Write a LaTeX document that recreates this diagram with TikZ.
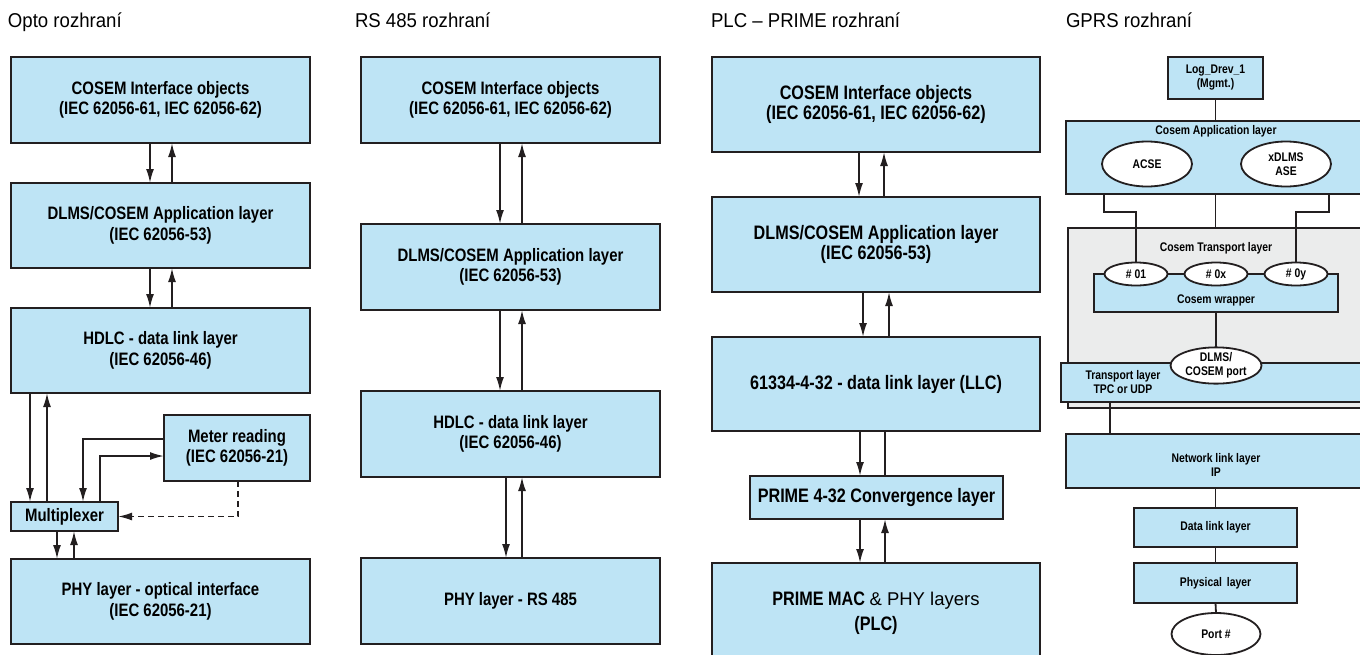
\documentclass[tikz,border=0pt]{standalone}
\usepackage{fontspec}
\setmainfont{Liberation Sans}
\newfontfamily\cnd{Liberation Sans}[FakeStretch=0.83]
\newfontfamily\ttl{Liberation Sans}[FakeStretch=0.93]
\usetikzlibrary{arrows.meta,shapes.geometric}
\definecolor{boxblue}{RGB}{190,228,245}
\definecolor{graybg}{RGB}{235,236,236}
\definecolor{ink}{RGB}{35,31,32}
\begin{document}
\begin{tikzpicture}[x=1pt,y=-1pt,
  every node/.style={inner sep=0pt, outer sep=0pt},
  layer/.style={draw=ink, fill=boxblue, line width=1.8pt, align=center,
    font=\cnd\bfseries\fontsize{18}{20.5}\selectfont},
  biglayer/.style={layer, font=\cnd\bfseries\fontsize{19.5}{20}\selectfont},
  glayer/.style={layer, font=\cnd\bfseries\fontsize{12.5}{14}\selectfont},
  gtext/.style={align=center, font=\cnd\bfseries\fontsize{12.5}{14}\selectfont},
  grayblock/.style={draw=ink, fill=graybg, line width=1.8pt},
  oval/.style={ellipse, draw=ink, fill=white, line width=1.8pt, align=center,
    font=\cnd\bfseries\fontsize{12.5}{14}\selectfont},
  title/.style={anchor=base west, font=\ttl\fontsize{20}{22}\selectfont},
  arr/.style={draw=ink, line width=1.8pt, -{Latex[length=14pt,width=8pt]}},
  link/.style={draw=ink, line width=1.8pt},
  dashlink/.style={arr, dash pattern=on 6pt off 4pt}
]
\useasboundingbox (0,0) rectangle (1360,654);
\clip (0,0) rectangle (1360,654);

% ---------- titles ----------
\node[title] (t1) at (8,27) {Opto rozhraní};
\node[title] (t2) at (355,27) {RS 485 rozhraní};
\node[title] (t3) at (711,27) {PLC – PRIME rozhraní};
\node[title] (t4) at (1066,27) {GPRS rozhraní};

% ---------- Opto ----------
\node[layer, minimum width=299pt, minimum height=86pt] (o1) at (160.5,100)
  {COSEM Interface objects\\(IEC 62056-61, IEC 62056-62)};
\node[layer, minimum width=299pt, minimum height=85pt] (o2) at (160.5,225.5)
  {DLMS/COSEM Application layer\\(IEC 62056-53)};
\node[layer, minimum width=299pt, minimum height=85pt] (o3) at (160.5,350.5)
  {HDLC - data link layer\\(IEC 62056-46)};
\node[layer, minimum width=146pt, minimum height=66pt] (mr) at (237,448)
  {Meter reading\\(IEC 62056-21)};
\node[layer, minimum width=107pt, minimum height=29pt] (mux) at (64.5,516.5)
  {Multiplexer};
\node[layer, minimum width=299pt, minimum height=85pt] (o4) at (160.5,601.5)
  {PHY layer - optical interface\\(IEC 62056-21)};

\draw[arr] ([xshift=-10.5pt]o1.south) -- ([xshift=-10.5pt]o1.south |- o2.north);
\draw[arr] ([xshift=11.5pt]o1.south |- o2.north) -- ([xshift=11.5pt]o1.south);
\draw[arr] ([xshift=-10.5pt]o2.south) -- ([xshift=-10.5pt]o2.south |- o3.north);
\draw[arr] ([xshift=11.5pt]o2.south |- o3.north) -- ([xshift=11.5pt]o2.south);
\draw[arr] ([xshift=-34.5pt]mux.north |- o3.south) -- ([xshift=-34.5pt]mux.north);
\draw[arr] ([xshift=-17.5pt]mux.north) -- ([xshift=-17.5pt]mux.north |- o3.south);
\draw[arr] ([yshift=9pt]mr.west) -| ([xshift=18.5pt]mux.north);
\draw[arr] ([xshift=35.5pt]mux.north) |- ([yshift=-8pt]mr.west);
\draw[dashlink] ([xshift=1pt]mr.south) |- (mux.east);
\draw[arr] ([xshift=-7.5pt]mux.south) -- ([xshift=-7.5pt]mux.south |- o4.north);
\draw[arr] ([xshift=9.5pt]mux.south |- o4.north) -- ([xshift=9.5pt]mux.south);

% ---------- RS 485 ----------
\node[layer, minimum width=299pt, minimum height=86pt] (r1) at (510.5,100)
  {COSEM Interface objects\\(IEC 62056-61, IEC 62056-62)};
\node[layer, minimum width=299pt, minimum height=86pt] (r2) at (510.5,267)
  {DLMS/COSEM Application layer\\(IEC 62056-53)};
\node[layer, minimum width=299pt, minimum height=86pt] (r3) at (510.5,434)
  {HDLC - data link layer\\(IEC 62056-46)};
\node[layer, minimum width=299pt, minimum height=86pt] (r4) at (510.5,601)
  {PHY layer - RS 485};

\draw[arr] ([xshift=-10.5pt]r1.south) -- ([xshift=-10.5pt]r1.south |- r2.north);
\draw[arr] ([xshift=11.5pt]r1.south |- r2.north) -- ([xshift=11.5pt]r1.south);
\draw[arr] ([xshift=-10.5pt]r2.south) -- ([xshift=-10.5pt]r2.south |- r3.north);
\draw[arr] ([xshift=11.5pt]r2.south |- r3.north) -- ([xshift=11.5pt]r2.south);
\draw[arr] ([xshift=-4.5pt]r3.south) -- ([xshift=-4.5pt]r3.south |- r4.north);
\draw[arr] ([xshift=11.5pt]r3.south |- r4.north) -- ([xshift=11.5pt]r3.south);

% ---------- PLC - PRIME ----------
\node[biglayer, minimum width=328pt, minimum height=95pt] (p1) at (876,104.5)
  {COSEM Interface objects\\(IEC 62056-61, IEC 62056-62)};
\node[biglayer, minimum width=328pt, minimum height=95pt] (p2) at (876,244.5)
  {DLMS/COSEM Application layer\\(IEC 62056-53)};
\node[biglayer, minimum width=328pt, minimum height=94pt] (p3) at (876,384)
  {61334-4-32 - data link layer (LLC)};
\node[biglayer, minimum width=253pt, minimum height=43pt] (pc) at (876.5,497.5)
  {PRIME 4-32 Convergence layer};
\node[biglayer, minimum width=328pt, minimum height=100pt,
  font=\cnd\bfseries\fontsize{19.5}{25}\selectfont] (p4) at (876,613)
  {PRIME MAC {\normalfont\mdseries\fontspec{Liberation Sans}\fontsize{18.5}{25}\selectfont\& PHY layers}\\(PLC)};

\draw[arr] ([xshift=-17pt]p1.south) -- ([xshift=-17pt]p1.south |- p2.north);
\draw[arr] ([xshift=8pt]p1.south |- p2.north) -- ([xshift=8pt]p1.south);
\draw[arr] ([xshift=-13pt]p2.south) -- ([xshift=-13pt]p2.south |- p3.north);
\draw[arr] ([xshift=13pt]p2.south |- p3.north) -- ([xshift=13pt]p2.south);
\draw[arr] ([xshift=-16pt]p3.south) -- ([xshift=-16pt]p3.south |- pc.north);
\draw[link] ([xshift=9pt]p3.south |- pc.north) -- ([xshift=9pt]p3.south);
\draw[arr] ([xshift=-16.5pt]pc.south) -- ([xshift=-16.5pt]pc.south |- p4.north);
\draw[arr] ([xshift=8.5pt]pc.south |- p4.north) -- ([xshift=8.5pt]pc.south);

% ---------- GPRS ----------
\node[glayer, minimum width=95pt, minimum height=42pt] (log) at (1215.5,78)
  {Log\_Drev\_1\\(Mgmt.)};
\node[glayer, minimum width=304pt, minimum height=73pt] (app) at (1218,157.5) {};
\node[gtext] (apptitle) at (1216,131) {Cosem Application layer};
\node[oval, minimum width=90pt, minimum height=45pt] (acse) at (1147,164) {ACSE};
\node[oval, minimum width=90pt, minimum height=45pt] (xdlms) at (1286,164) {xDLMS\\ASE};

\node[grayblock, minimum width=302pt, minimum height=180pt] (tr) at (1219,318) {};
\node[gtext] (trtitle) at (1216,248) {Cosem Transport layer};
\node[glayer, minimum width=244pt, minimum height=38pt] (wrap) at (1216,293) {};
\node[gtext] (wraptext) at (1216,300) {Cosem wrapper};
\node[oval, minimum width=63pt, minimum height=23pt] (e01) at (1136,274) {\# 01};
\node[oval, minimum width=63pt, minimum height=23pt] (e0x) at (1216,274) {\# 0x};
\node[oval, minimum width=63pt, minimum height=23pt] (e0y) at (1296,274) {\# 0y};

\node[glayer, minimum width=309pt, minimum height=39pt] (tl) at (1215.5,382.5) {};
\node[gtext] (tltext) at (1123,382.5) {Transport layer\\TPC or UDP};
\node[oval, minimum width=91pt, minimum height=35pt] (port) at (1216,365.5) {DLMS/\\COSEM port};

\node[glayer, minimum width=304pt, minimum height=54pt] (net) at (1218,461) {};
\node[gtext] (nettext) at (1216,464.5) {Network link layer\\IP};
\node[glayer, minimum width=163pt, minimum height=39pt] (dll) at (1215.5,527.5) {Data link layer};
\node[glayer, minimum width=163pt, minimum height=40pt] (phl) at (1215.5,583) {Physical\, layer};
\node[oval, minimum width=89pt, minimum height=42pt] (portn) at (1216,634) {Port \#};

\draw[link] (log.south) -- (log.south |- app.north);
\draw[link] ([xshift=-114pt]app.south) -- ++(0,18) -| (e01.north);
\draw[link] (log.south |- app.south) -- (log.south |- tr.north);
\draw[link] ([xshift=111pt]app.south) -- ++(0,18) -| (e0y.north);
\draw[link] (wrap.south) -- (port.north);
\draw[link] ([xshift=-105.5pt]tl.south) -- ([xshift=-105.5pt]tl.south |- net.north);
\draw[link] (dll.north |- net.south) -- (dll.north);
\draw[link] (dll.south) -- (phl.north);
\draw[link] (phl.south) -- (portn.north);
\end{tikzpicture}
\end{document}
